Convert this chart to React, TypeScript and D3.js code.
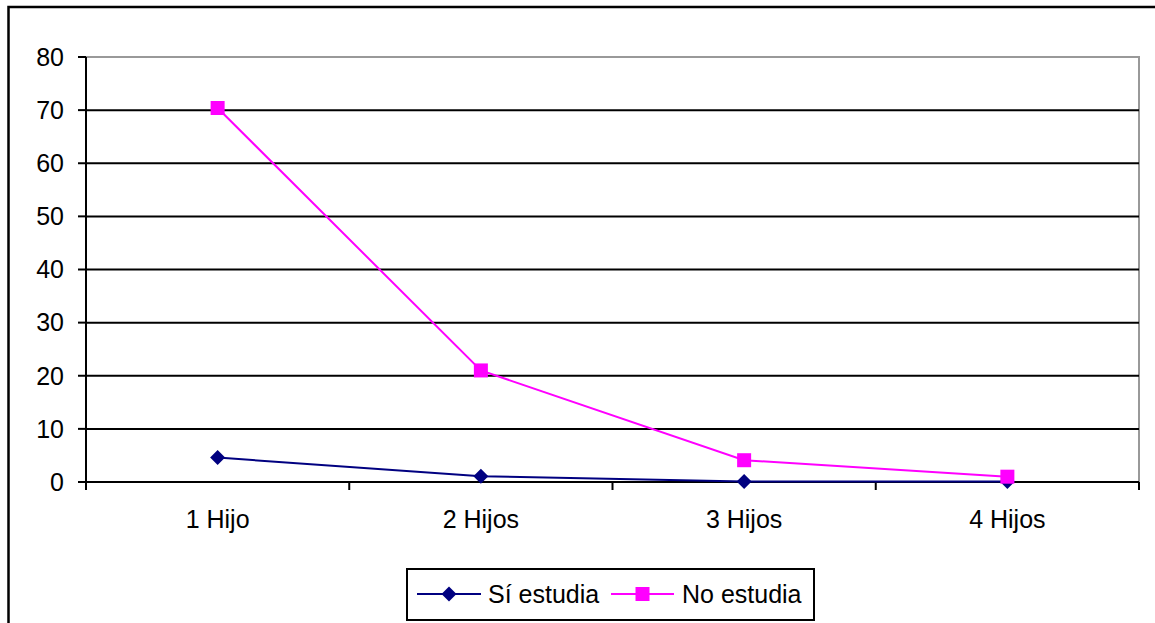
import React from "react";
import * as d3 from "d3";

const categories = ["1 Hijo", "2 Hijos", "3 Hijos", "4 Hijos"];
const siEstudia = [4.6, 1.1, 0.1, 0.1];
const noEstudia = [70.4, 21, 4.1, 1];
const yTicks = [0, 10, 20, 30, 40, 50, 60, 70, 80];
const seriesNames = ["Sí estudia", "No estudia"];

const W = 1155, H = 623;
const left = 86, right = 1139, top = 57, bottom = 482;
const font = "'Liberation Sans', Arial, sans-serif";
const fs = 25;

export default function App() {
  const x = d3.scaleBand<string>().domain(categories).range([left, right]);
  const y = d3.scaleLinear().domain([0, 80]).range([bottom, top]);
  const line = d3
    .line<number>()
    .x((_, i) => (x(categories[i]) as number) + x.bandwidth() / 2)
    .y((d) => y(d));
  const cx = (i: number) => (x(categories[i]) as number) + x.bandwidth() / 2;
  const diamond = (px: number, py: number, r = 7.5) =>
    `M${px},${py - r}L${px + r},${py}L${px},${py + r}L${px - r},${py}Z`;
  const navy = "#000080";
  const mag = "#FF00FF";
  const xTickPos = [...categories.map((c) => x(c) as number), right];

  return (
    <svg
      width={W}
      height={H}
      style={{ position: "absolute", left: 0, top: 0, background: "#fff" }}
      fontFamily={font}
    >
      <rect x={8.5} y={7} width={W + 10} height={H + 10} fill="none" stroke="#000" strokeWidth={2.5} />
      <rect x={left} y={top} width={right - left} height={bottom - top} fill="#fff" stroke="#999" strokeWidth={2} />
      {yTicks.filter((t) => t !== 0 && t !== 80).map((t) => (
        <line key={t} x1={left} x2={right} y1={y(t)} y2={y(t)} stroke="#000" strokeWidth={2} />
      ))}
      <line x1={left} x2={left} y1={top} y2={bottom + 8} stroke="#000" strokeWidth={2} />
      <line x1={left} x2={right} y1={bottom} y2={bottom} stroke="#000" strokeWidth={2} />
      {yTicks.map((t) => (
        <g key={t}>
          <line x1={left - 8} x2={left} y1={y(t)} y2={y(t)} stroke="#000" strokeWidth={2} />
          <text x={64} y={y(t)} dy="0.35em" textAnchor="end" fontSize={fs} fill="#000">
            {t}
          </text>
        </g>
      ))}
      {xTickPos.map((p, i) => (
        <line key={i} x1={p} x2={p} y1={bottom} y2={bottom + 8} stroke="#000" strokeWidth={2} />
      ))}
      {categories.map((c, i) => (
        <text key={c} x={cx(i)} y={528} textAnchor="middle" fontSize={fs} fill="#000">
          {c}
        </text>
      ))}
      <path d={line(siEstudia) || ""} fill="none" stroke={navy} strokeWidth={2} />
      <path d={line(noEstudia) || ""} fill="none" stroke={mag} strokeWidth={2} />
      {siEstudia.map((v, i) => (
        <path key={"s" + i} d={diamond(cx(i), y(v))} fill={navy} />
      ))}
      {noEstudia.map((v, i) => (
        <rect key={"n" + i} x={cx(i) - 7} y={y(v) - 7} width={14} height={14} fill={mag} />
      ))}
      <rect x={407} y={569} width={407} height={51} fill="#fff" stroke="#000" strokeWidth={2} />
      <line x1={417} x2={481} y1={594} y2={594} stroke={navy} strokeWidth={2} />
      <path d={diamond(449, 594)} fill={navy} />
      <text x={488} y={594} dy="0.35em" fontSize={fs} fill="#000">{seriesNames[0]}</text>
      <line x1={611} x2={674} y1={594} y2={594} stroke={mag} strokeWidth={2} />
      <rect x={635.5} y={587} width={14} height={14} fill={mag} />
      <text x={682} y={594} dy="0.35em" fontSize={fs} fill="#000">{seriesNames[1]}</text>
    </svg>
  );
}
